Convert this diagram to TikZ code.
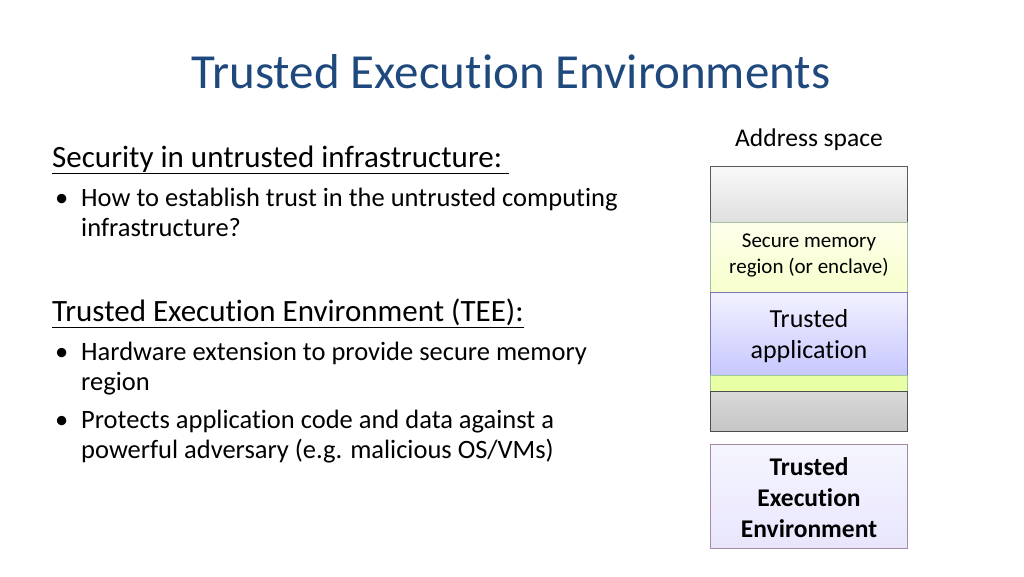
\documentclass[tikz,border=0pt]{standalone}
\usepackage{fontspec}
\setmainfont[RawFeature={-liga}]{Carlito}
\begin{document}
\begin{tikzpicture}[x=1pt,y=-1pt,
  txt/.style={anchor=base west,inner sep=0pt,font=\fontsize{26.5}{30}\selectfont},
  head/.style={anchor=base west,inner sep=0pt,font=\fontsize{31}{36}\selectfont},
  blk/.style={draw=#1,line width=0.8pt,minimum width=197pt,inner sep=0pt},
  lbl/.style={anchor=base,inner sep=0pt},
]
\useasboundingbox (0,0) rectangle (1024,576);
\definecolor{titleblue}{RGB}{31,73,125}
\node[anchor=base,inner sep=0pt,font=\fontsize{49}{56}\selectfont,text=titleblue] (title) at (511,88) {Trusted Execution Environments};
\node[head] (h1) at (52,167) {\underline{Security in untrusted infrastructure:\ }};
\node[txt] (b1) at (55,206) {\textbullet};
\node[txt] (t1) at (81,206) {How to establish trust in the untrusted computing};
\node[txt] (t1b) at (81,236) {infrastructure?};
\node[head] (h2) at (52,321) {\underline{Trusted Execution Environment (TEE):}};
\node[txt] (b2) at (55,360) {\textbullet};
\node[txt] (t2) at (81,360) {Hardware extension to provide secure memory};
\node[txt] (t2b) at (81,390) {region};
\node[txt] (b3) at (55,428) {\textbullet};
\node[txt] (t3) at (81,428) {Protects application code and data against a};
\node[txt] (t3b) at (81,458) {powerful adversary (e.g. malicious OS/VMs)};
\node[lbl,font=\fontsize{25.5}{30}\selectfont] (as) at (809,146) {Address space};
% column
\node[blk=gray!70!black,minimum height=56pt,top color=gray!5,bottom color=gray!25,anchor=north west] (top) at (710,166) {};
\node[blk=green!20!gray!60,minimum height=70pt,top color=green!8!yellow!8,bottom color=green!15!yellow!20,anchor=north west] (sec) at (710,222) {};
\node[blk=blue!30!gray!80,minimum height=83pt,top color=blue!5,bottom color=blue!22,anchor=north west] (app) at (710,292) {};
\node[blk=green!30!gray!60,minimum height=16pt,fill=green!25!yellow!35,anchor=north west] (strip) at (710,375) {};
\node[blk=gray!60!black,minimum height=40pt,top color=gray!30,bottom color=gray!45,anchor=north west] (bot) at (710,391) {};
\node[blk=violet!30!gray!70,minimum height=104pt,top color=violet!5!blue!4,bottom color=violet!22!blue!10,anchor=north west] (tee) at (710,444) {};
\node[lbl,font=\fontsize{21}{25}\selectfont] (s1) at (809,247) {Secure memory};
\node[lbl,font=\fontsize{21}{25}\selectfont] (s2) at (809,273) {region (or enclave)};
\node[lbl,font=\fontsize{26}{30}\selectfont] (a1) at (809,327) {Trusted};
\node[lbl,font=\fontsize{26}{30}\selectfont] (a2) at (809,358) {application};
\node[lbl,font=\fontsize{25.5}{30}\selectfont\bfseries] (e1) at (809,475) {Trusted};
\node[lbl,font=\fontsize{25.5}{30}\selectfont\bfseries] (e2) at (809,506) {Execution};
\node[lbl,font=\fontsize{25.5}{30}\selectfont\bfseries] (e3) at (809,537) {Environment};
\end{tikzpicture}
\end{document}
